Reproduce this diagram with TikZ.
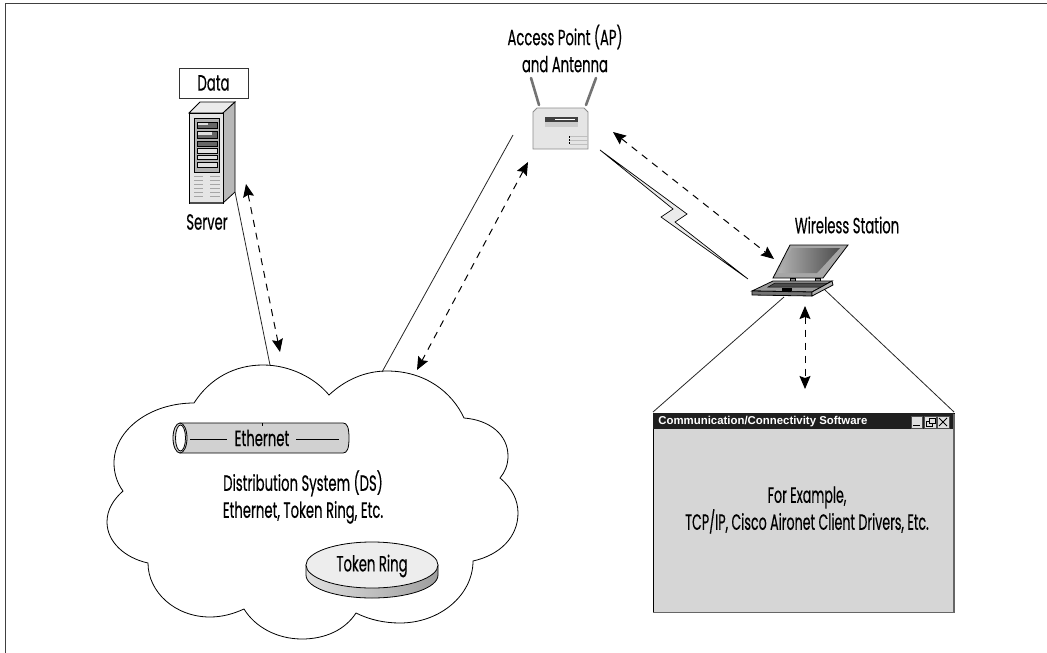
\documentclass[tikz,border=0pt]{standalone}
\usepackage{fontspec}
\usepackage{tikz}
\usetikzlibrary{arrows.meta}
\setmainfont[FakeStretch=0.6,FakeBold=0.35]{Poppins}
\newfontfamily\windowfont[FakeStretch=0.575,FakeBold=0.35]{Poppins}
\newfontfamily\barfont{Liberation Sans}

\begin{document}
\begin{tikzpicture}[x=1pt, y=-1pt, line width=0.8pt,
      every node/.append style={inner sep=0pt,font=\fontsize{22}{27}\selectfont,align=center}]
    \tikzstyle{link} = [dashed,dash pattern=on 7pt off 6pt,line width=1pt,{Stealth[length=13pt,width=11pt,inset=2pt]}-{Stealth[length=13pt,width=11pt,inset=2pt]}]
    \tikzstyle{wire} = [draw=black!85,line width=0.8pt]
    \tikzstyle{label} = [font=\fontsize{22}{27}\selectfont,color=black]
    \tikzstyle{bay} = [draw=black,fill=black!12,line width=0.6pt]
    \tikzstyle{darkbay} = [draw=black,fill=black!60,line width=0.6pt]
    \tikzstyle{winbutton} = [draw=black!70,fill=black!12,line width=0.6pt]
    \useasboundingbox (0,0) rectangle (1047,653);
    \draw [black!75] (5.5,653) -- (5.5,3.5) -- (1047,3.5);

    % cloud
    \draw [fill=white] (194,403) .. controls (210,378) and (235,365) .. (263,365)
      .. controls (290,365) and (315,378) .. (329,395)
      .. controls (345,380) and (365,371) .. (387,371)
      .. controls (425,371) and (452,392) .. (464,418)
      .. controls (490,420) and (508,435) .. (508,456)
      .. controls (508,465) and (505,472) .. (500,478)
      .. controls (512,488) and (518,500) .. (518,513)
      .. controls (518,537) and (500,555) .. (473,561)
      .. controls (473,595) and (440,623) .. (400,623)
      .. controls (385,623) and (370,620) .. (356,613)
      .. controls (345,630) and (325,639) .. (302,639)
      .. controls (277,639) and (255,627) .. (244,609)
      .. controls (233,614) and (222,617) .. (210,617)
      .. controls (175,617) and (148,592) .. (148,563)
      .. controls (125,558) and (107,542) .. (107,522)
      .. controls (107,510) and (113,500) .. (123,491)
      .. controls (117,483) and (114,473) .. (114,463)
      .. controls (114,430) and (150,403) .. (194,403) -- cycle;
    \coordinate (cloudleft) at (270,365);
    \coordinate (cloudright) at (382,372);
    \coordinate (cloudleftarrow) at (280,352);
    \coordinate (cloudrightarrow) at (417,370);

    % ethernet pipe
    \draw [fill=black!18] (180,423) -- (343,423) .. controls (347,423) and (349,427) .. (349,438)
      .. controls (349,449) and (347,453) .. (343,453) -- (180,453) -- cycle;
    \draw [fill=black!18] (180,438) circle [x radius=7, y radius=15];
    \draw [fill=white] (180.5,438) circle [x radius=5, y radius=13];
    \draw (262,423) -- (262,426);
    \node (ethernet) [label] at (262,438) {Ethernet};
    \draw (190,439) -- (227,439);
    \draw (296,439) -- (339,439);
    \node (distribution) [label] at (303,497) {Distribution System (DS)\\Ethernet, Token Ring, Etc.};

    % token ring disc
    \shade [draw=black,left color=black!12,middle color=black!28,right color=black!38] (306,565) -- (306,575) .. controls (306,588) and (336,598) .. (372,598)
      .. controls (408,598) and (438,588) .. (438,575) -- (438,565) -- cycle;
    \draw [fill=black!7] (372,565) circle [x radius=66, y radius=23];
    \node (tokenring) [label] at (372,566) {Token Ring};

    % server
    \node (data) [label,draw=black!80,fill=white,minimum width=69pt,minimum height=30pt] at (213.5,83) {Data};
    \draw [fill=black!8] (189,113) -- (200,102) -- (235,102) -- (223,113) -- cycle;
    \draw [fill=black!28] (223,113) -- (235,102) -- (235,192) -- (223,203) -- cycle;
    \draw [fill=black!10] (189,113) rectangle (223,203);
    \draw [line width=1.6pt,black!70] (190,203) -- (223,203);
    \draw [fill=black!30] (194,118) rectangle (219,172);
    \draw [darkbay] (197,122) rectangle (217,128);
    \draw [darkbay] (197,131) rectangle (217,138);
    \draw [darkbay] (197,141) rectangle (217,146);
    \fill [black!12] (198,123) rectangle (208,125);
    \fill [black!12] (198,132) rectangle (212,135);
    \draw [bay] (197,148) rectangle (217,153);
    \draw [bay] (197,155) rectangle (217,159);
    \draw [bay] (197,162) rectangle (217,167);
    \draw [black!35,line width=1pt] (194,176) -- (203,176) (210,176) -- (220,176)
      (194,180) -- (203,180) (210,180) -- (220,180)
      (194,184) -- (203,184) (210,184) -- (220,184)
      (194,188) -- (203,188) (210,188) -- (220,188)
      (194,192) -- (203,192) (210,192) -- (220,192)
      (194,196) -- (203,196) (210,196) -- (220,196);
    \node (server) [label] at (207,222) {Server};
    \coordinate (serverbase) at (235,192);
    \coordinate (serverarrow) at (246,184);

    % access point
    \node (aplabel) [label] at (565,48.5) {Access Point (AP)\\and Antenna};
    \draw [black!55,line width=2.6pt,line cap=round] (531,78) -- (539,105);
    \draw [black!55,line width=2.6pt,line cap=round] (596,78) -- (586,105);
    \draw [draw=black!45,fill=black!10] (533,112) -- (537,108) -- (584,108) -- (588,112) -- (588,149) -- (533,149) -- cycle;
    \fill [black!20] (545,117) rectangle (578,127);
    \fill [black!75] (545,117) rectangle (578,122);
    \draw [white,line width=0.8pt] (555,119.5) -- (575,119.5);
    \draw [black!25,line width=0.6pt] (570,136) -- (588,136) (570,140) -- (588,140) (570,144) -- (588,144);
    \draw [black,line width=1pt,dash pattern=on 1.5pt off 1.5pt] (569,136) -- (569,144);
    \coordinate (apleft) at (513,135);
    \coordinate (apleftarrow) at (528,162);
    \coordinate (aprightarrow) at (613,132);

    % wireless link
    \draw [fill=black!8,line width=0.7pt] (600,150) -- (687,214) -- (675,222) -- (748,279) -- (661,217) -- (673,209) -- cycle;

    % laptop
    \node (wireless) [label] at (847,225) {Wireless Station};
    \draw [fill=black!35] (790,245) -- (848,245) -- (823,278) -- (773,278) -- cycle;
    \shade [left color=black!30,middle color=black!5,right color=black!70] (792,248) -- (840,248) -- (817,273) -- (778,273) -- cycle;
    \draw [fill=black!45] (790,278) rectangle (795,281);
    \draw [fill=black!45] (815,278) rectangle (820,281);
    \draw [fill=black!40] (773,281) -- (832,281) -- (812,292) -- (752,291) -- cycle;
    \draw [fill=black!70,line width=0.5pt] (775,283) -- (828,283) -- (822,287) -- (768,287) -- cycle;
    \fill (782,288) rectangle (792,290.5);
    \draw [fill=black!55] (752,291) -- (812,292) -- (812,296) -- (752,295) -- cycle;
    \draw [fill=black!30] (812,292) -- (832,281) -- (833,285) -- (812,296) -- cycle;
    \coordinate (laptopleft) at (784,297);
    \coordinate (laptopright) at (825,290);
    \coordinate (laptoparrow) at (774,259);
    \coordinate (laptopdown) at (805,306);

    % software window
    \node (software) [draw=black,fill=black!16,minimum width=301pt,minimum height=199pt] at (803.5,512.5) {};
    \fill [black!88] (653,413) rectangle (954,429);
    \node (softwaretitle) [anchor=west,font=\barfont\bfseries\fontsize{11.4}{13}\selectfont,color=white] at (658,421.5) {Communication/Connectivity Software};
    \draw [black!60,line width=1.2pt] (954,414) -- (954,612.5) -- (653,612.5);
    \node (minbutton) [winbutton,minimum width=11pt,minimum height=12pt] at (916.5,422) {};
    \draw [line width=1.4pt] (913,425.5) -- (920,425.5);
    \node (maxbutton) [winbutton,minimum width=12pt,minimum height=12pt] at (930,422) {};
    \draw [line width=0.7pt,fill=black!12] (926,421) rectangle (932,426);
    \draw [line width=0.7pt,fill=black!12] (929,418) rectangle (935,423);
    \node (closebutton) [winbutton,minimum width=12pt,minimum height=12pt] at (943,422) {};
    \draw [line width=0.8pt] (939,418) -- (947,426) (947,418) -- (939,426);
    \node (example) [label,font=\windowfont\fontsize{22}{27}\selectfont] at (807,510) {For Example,\\TCP/IP, Cisco Aironet Client Drivers, Etc.};
    \coordinate (windowleft) at (653,412);
    \coordinate (windowright) at (954,412);
    \coordinate (windowarrow) at (805,389);

    % connectors
    \draw [wire] (serverbase) -- (cloudleft);
    \draw [wire] (apleft) -- (cloudright);
    \draw [wire] (laptopleft) -- (windowleft);
    \draw [wire] (laptopright) -- (windowright);
    \draw [link] (serverarrow) -- (cloudleftarrow);
    \draw [link] (apleftarrow) -- (cloudrightarrow);
    \draw [link] (aprightarrow) -- (laptoparrow);
    \draw [link] (laptopdown) -- (windowarrow);
\end{tikzpicture}
\end{document}
